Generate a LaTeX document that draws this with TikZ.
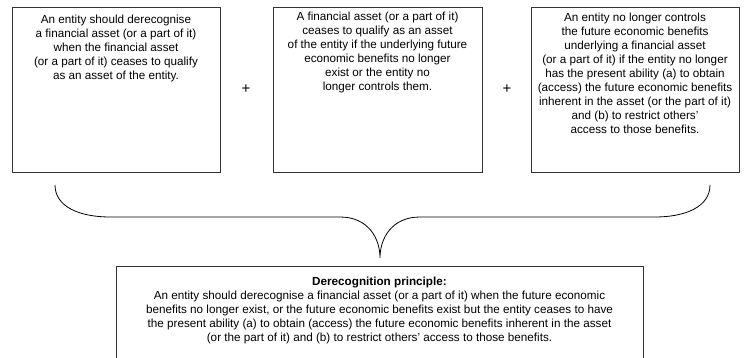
\documentclass[tikz,border=0pt]{standalone}
\usepackage{fontspec}
\setmainfont{Liberation Sans}
\begin{document}
\begin{tikzpicture}[x=1pt,y=-1pt,
  box/.style={draw=black!80, line width=0.8pt, inner sep=0pt},
  txt/.style={inner sep=0pt, align=center, anchor=north, font=\fontsize{11.7}{14}\selectfont},
  plus/.style={inner sep=0pt, font=\fontsize{15}{15}\selectfont},
  brace/.style={draw=black, line width=0.8pt}]
\useasboundingbox (0,0) rectangle (744,358);
\node[box, minimum width=208pt, minimum height=165pt] (b1) at (116,89.5) {};
\node[box, minimum width=209pt, minimum height=165pt] (b2) at (377.5,89.5) {};
\node[box, minimum width=208pt, minimum height=165pt] (b3) at (635,89.5) {};
\node[txt] (t1) at (116,14.5) {An entity should derecognise\\a financial asset (or a part of it)\\when the financial asset\\(or a part of it) ceases to qualify\\as an asset of the entity.};
\node[txt] (t2) at (377.5,12) {A financial asset (or a part of it)\\ceases to qualify as an asset\\of the entity if the underlying future\\economic benefits no longer\\exist or the entity no\\longer controls them.};
\node[txt] (t3) at (635,13) {An entity no longer controls\\the future economic benefits\\underlying a financial asset\\(or a part of it) if the entity no longer\\has the present ability (a) to obtain\\(access) the future economic benefits\\inherent in the asset (or the part of it)\\and (b) to restrict others'\\access to those benefits.};
\node[plus] (p1) at (246,89) {+};
\node[plus] (p2) at (507,89) {+};
\coordinate (bl) at (55,185);
\coordinate (br) at (710,185);
\coordinate (tip) at (380,258);
\coordinate (hl) at (110,217);
\coordinate (hm1) at (340,217);
\coordinate (hm2) at (420,217);
\coordinate (hr) at (655,217);
\draw[brace] (bl) .. controls (55,207) and (80,217) .. (hl) -- (hm1)
  .. controls (368,217) and (380,238) .. (tip)
  .. controls (380,238) and (392,217) .. (hm2) -- (hr)
  .. controls (685,217) and (710,207) .. (br);
\node[box, minimum width=527pt, minimum height=94pt] (b4) at (379.5,313) {};
\node[txt] (t4) at (379.5,277) {\textbf{Derecognition principle:}\\An entity should derecognise a financial asset (or a part of it) when the future economic\\benefits no longer exist, or the future economic benefits exist but the entity ceases to have\\the present ability (a) to obtain (access) the future economic benefits inherent in the asset\\(or the part of it) and (b) to restrict others' access to those benefits.};
\end{tikzpicture}
\end{document}
